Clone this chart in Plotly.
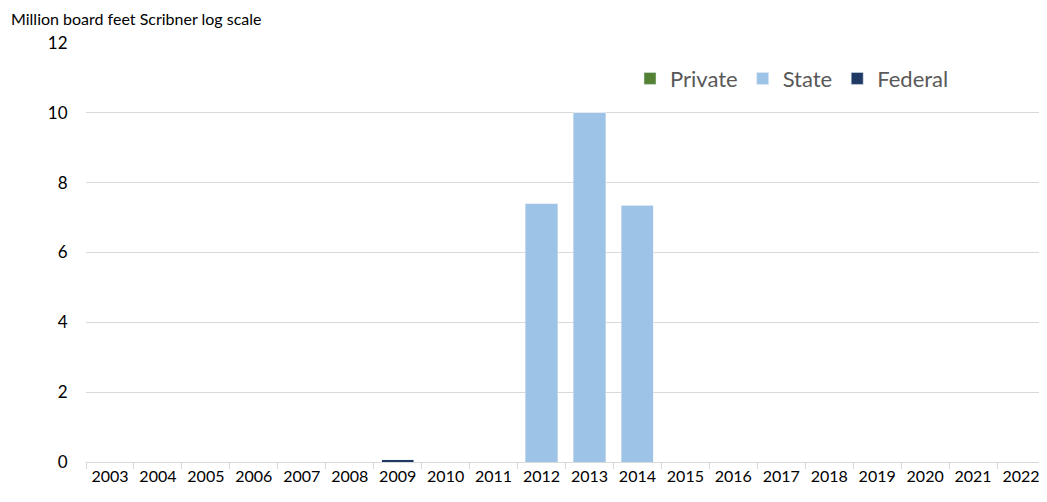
import plotly.graph_objects as go

years = [str(y) for y in range(2003, 2023)]
private = [0]*20
state = [0,0,0,0,0,0,0,0,0,7.4,10.0,7.35,0,0,0,0,0,0,0,0]
federal = [0,0,0,0,0,0,0.07,0,0,0,0,0,0,0,0,0,0,0,0,0]

font_family = "Lato, Carlito, Calibri, sans-serif"
txt = "#404040"

fig = go.Figure()
fig.add_trace(go.Bar(name="Private", x=years, y=private, marker_color="#548235"))
fig.add_trace(go.Bar(name="State", x=years, y=state, marker_color="#9DC3E6"))
fig.add_trace(go.Bar(name="Federal", x=years, y=federal, marker_color="#1F3864"))

OFF = 8  # page body offset
W, H = 1047 - OFF, 502 - OFF
L, R = 86 - OFF, 2
PW = W - L - R

fig.update_layout(
    barmode="stack",
    bargap=0.33,
    width=W, height=H,
    margin=dict(l=L, r=R, t=43 - OFF, b=40, autoexpand=False),
    plot_bgcolor="white", paper_bgcolor="white",
    font=dict(family=font_family, color=txt, size=16),
    showlegend=True,
    legend=dict(orientation="h", x=(630 - 86) / PW, y=0.915, xanchor="left", yanchor="middle",
                font=dict(size=22, color="#595959"), traceorder="normal",
                itemwidth=30, bgcolor="rgba(0,0,0,0)"),
    annotations=[dict(text="Million board feet Scribner log scale", xref="paper", yref="paper",
                      x=-(L - 1) / PW, y=1.0, xanchor="left", yanchor="bottom", yshift=13,
                      showarrow=False, font=dict(size=16, color="#000000"))],
)
fig.update_xaxes(type="category", showgrid=False, showline=True, linecolor="#d9d9d9", linewidth=1,
                 ticks="outside", tickson="boundaries", ticklen=6, tickcolor="#d9d9d9",
                 tickangle=0, automargin=False,
                 tickfont=dict(size=16, color="#000000"))
fig.update_yaxes(range=[0, 12], dtick=2, showgrid=True, gridcolor="#d9d9d9", gridwidth=1,
                 zeroline=False, showline=False, automargin=False,
                 tickfont=dict(size=17, color="#000000"),
                 ticksuffix="    ")
fig.write_html("out.html")
